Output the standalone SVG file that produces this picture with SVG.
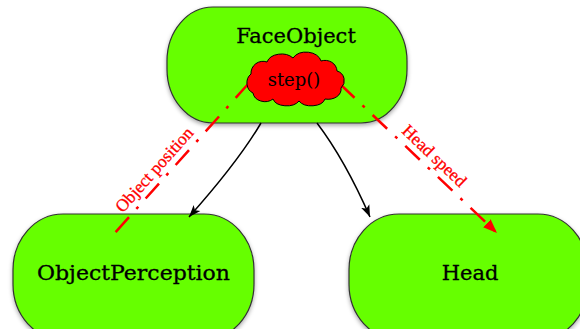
<svg xmlns="http://www.w3.org/2000/svg" width="580" height="329" viewBox="0 0 580 329">
  <defs>
    <filter id="shadow" x="-10%" y="-10%" width="120%" height="130%">
      <feDropShadow dx="0" dy="2" stdDeviation="2" flood-color="#000" flood-opacity="0.35"/>
    </filter>
    <marker id="arrow-black" markerUnits="userSpaceOnUse" markerWidth="13" markerHeight="10" refX="12" refY="5" orient="auto">
      <path d="M0,0.5 L12,5 L0,9.5 L3,5 Z" fill="#000"/>
    </marker>
    <marker id="arrow-red" markerUnits="userSpaceOnUse" markerWidth="15" markerHeight="12" refX="14" refY="6" orient="auto">
      <path d="M0,0.5 L14,6 L0,11.5 Z" fill="#ff0000"/>
    </marker>
    <style>
      .node { fill: #66ff00; stroke: #333; stroke-width: 1.2; filter: url(#shadow); }
      .title { font-family: "DejaVu Serif", serif; font-size: 21px; fill: #000; stroke: #000; stroke-width: 0.3; text-anchor: middle; }
      .flow { fill: none; stroke: #000; stroke-width: 1.5; marker-end: url(#arrow-black); }
      .data { fill: none; stroke: #ff0000; stroke-width: 2.5; stroke-dasharray: 20 11 3 11; }
      .data-label { font-family: "Liberation Serif", serif; font-size: 17.5px; fill: #ff0000; stroke: #ff0000; stroke-width: 0.3; text-anchor: middle; }
      .cloud { fill: #ff0000; stroke: #000; stroke-width: 1; }
      .method { font-family: "DejaVu Serif", serif; font-size: 18px; fill: #000; text-anchor: middle; }
    </style>
  </defs>

  <rect width="580" height="329" fill="#fff"/>

  <g id="FaceObject">
    <rect class="node" x="167" y="7" width="240" height="116" rx="46" ry="54"/>
    <text class="title" x="296" y="43">FaceObject</text>
  </g>

  <g id="ObjectPerception">
    <rect class="node" x="13" y="214" width="241" height="126" rx="50" ry="56"/>
    <text class="title" x="133.5" y="280" textLength="193" lengthAdjust="spacingAndGlyphs">ObjectPerception</text>
  </g>

  <g id="Head">
    <rect class="node" x="349" y="214" width="239" height="126" rx="50" ry="56"/>
    <text class="title" x="470" y="280">Head</text>
  </g>

  <g id="connectors">
    <path class="flow" d="M261,123 Q238,162 189,217"/>
    <path class="flow" d="M317,123 Q345,160 370,217"/>
    <path class="data" d="M249,83 L113,235"/>
    <path class="data" d="M340,84 L497,233" marker-end="url(#arrow-red)"/>
    <g transform="translate(163.7,178.2) rotate(-48.2)">
      <text class="data-label" x="0" y="-7">Object position</text>
    </g>
    <g transform="translate(425.5,165.1) rotate(43.5)">
      <text class="data-label" x="0" y="-7">Head speed</text>
    </g>
  </g>

  <g id="step">
    <path class="cloud" d="M251,74 A12 12 0 0 1 267,62 A15 11 0 0 1 293,58 A15 11 0 0 1 321,61 A12 11 0 0 1 337,71 A10 10 0 0 1 341,88 A13 10 0 0 1 325,99 A14 9 0 0 1 299,101 A14 9 0 0 1 273,99 A12 10 0 0 1 253,93 A10 11 0 0 1 251,74 Z"/>
    <text class="method" x="294" y="86">step()</text>
  </g>
</svg>
